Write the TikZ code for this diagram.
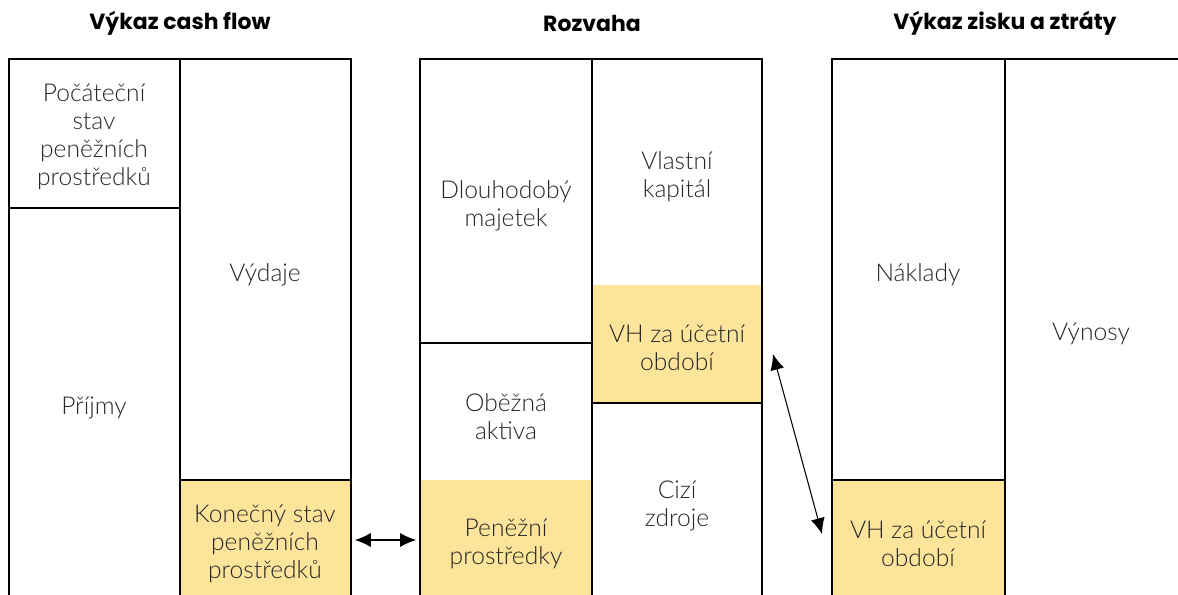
\documentclass[tikz,border=0pt]{standalone}
\usepackage{fontspec}
\setmainfont{Lato Light}
\newfontfamily\titlefont{Poppins}
\usetikzlibrary{arrows.meta}
\definecolor{vhyellow}{HTML}{FDE49B}
\tikzset{%
    cell/.style={align=center, font=\fontsize{14}{16}\selectfont, text=black!85},
    heading/.style={font=\titlefont\bfseries\fontsize{12.5}{15}\selectfont},
    frame/.style={line width=1.2pt},
    link/.style={{Latex[length=9pt,width=8pt]}-{Latex[length=9pt,width=8pt]}, semithick}
}

\begin{document}
\begin{tikzpicture}[x=0.02cm, y=-0.02cm]
\useasboundingbox (0,0) rectangle (1178,595);
\clip (0,0) rectangle (1178,595);

% yellow cells
\fill[vhyellow] (180,480) rectangle (351,600);
\fill[vhyellow] (420,480) rectangle (592,600);
\fill[vhyellow] (592,285) rectangle (762,403);
\fill[vhyellow] (832,480) rectangle (1005,600);

% cash flow
\draw[frame] (9,600) |- (351,59) -- (351,600);
\draw[frame] (180,59) -- (180,600);
\draw[frame] (9,208) -- (180,208);
\draw[frame] (180,480) -- (351,480);
% balance sheet
\draw[frame] (420,600) |- (762,59) -- (762,600);
\draw[frame] (592,59) -- (592,600);
\draw[frame] (420,343) -- (592,343);
\draw[frame] (592,403) -- (762,403);
% income statement
\draw[frame] (832,600) |- (1178,59);
\draw[frame] (1005,59) -- (1005,600);
\draw[frame] (832,480) -- (1005,480);

\node[heading] (cf) at (180,23) {Výkaz cash flow};
\node[heading] (bs) at (592,23) {Rozvaha};
\node[heading] (is) at (1005,23) {Výkaz zisku a ztráty};

\node[cell] (start)  at (94,137)  {Počáteční\\stav\\peněžních\\prostředků};
\node[cell] (out)    at (265,275) {Výdaje};
\node[cell] (in)     at (94,408)  {Příjmy};
\node[cell] (end)    at (265,544) {Konečný stav\\peněžních\\prostředků};
\node[cell] (fixed)  at (506,206) {Dlouhodobý\\majetek};
\node[cell] (curr)   at (506,417) {Oběžná\\aktiva};
\node[cell] (cash)   at (506,544) {Peněžní\\prostředky};
\node[cell] (equity) at (677,177) {Vlastní\\kapitál};
\node[cell] (vhbs)   at (677,348) {VH za účetní\\období};
\node[cell] (debt)   at (677,506) {Cizí\\zdroje};
\node[cell] (cost)   at (918,275) {Náklady};
\node[cell] (vhis)   at (918,544) {VH za účetní\\období};
\node[cell] (rev)    at (1091,334) {Výnosy};

\coordinate (end-r)  at (355,540);
\coordinate (cash-l) at (416,540);
\coordinate (vhbs-r) at (773,354);
\coordinate (vhis-l) at (822,534);
\draw[link] (end-r) -- (cash-l);
\draw[link] (vhbs-r) -- (vhis-l);
\end{tikzpicture}
\end{document}
